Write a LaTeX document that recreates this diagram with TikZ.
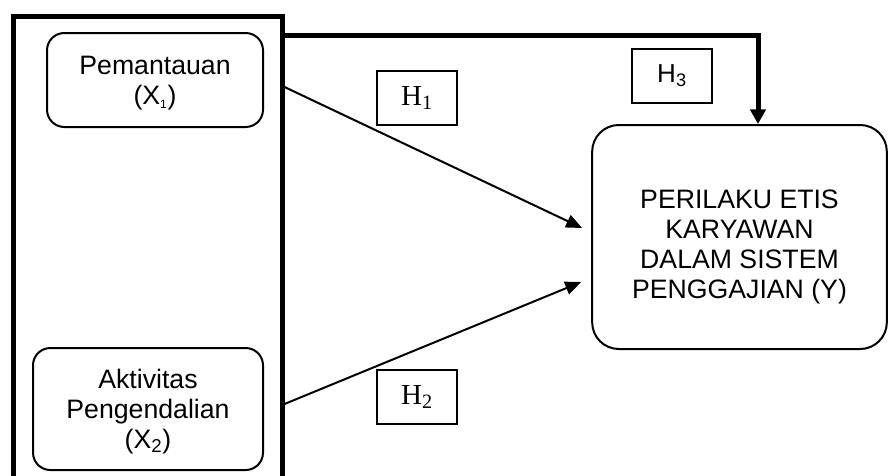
\documentclass[tikz,border=0pt]{standalone}
\usepackage{fontspec}
\setmainfont{Liberation Sans}
\newfontfamily\timesfont{Liberation Serif}
\usetikzlibrary{arrows.meta,calc,fit}

\begin{document}
\begin{tikzpicture}[x=0.75pt, y=-0.75pt,
    varbox/.style={draw, line width=1.5pt, rounded corners=13pt, align=center,
        font=\fontsize{20}{22.5}\selectfont, inner sep=0pt},
    hypbox/.style={draw, line width=1.5pt, minimum width=60pt, minimum height=40.5pt,
        inner sep=0pt},
    link/.style={line width=1.5pt, -{Triangle[length=12pt,width=10pt]}},
    boldlink/.style={line width=3.75pt, -{Triangle[length=11pt,width=11.5pt]}}]

    \useasboundingbox (0,0) rectangle (888,475);

    % Outer frame round the two independent variables
    \coordinate (fa) at (13,16);
    \coordinate (fb) at (282,481);
    \node[draw, line width=3.75pt, inner sep=0pt, fit=(fa)(fb)] (grp) {};

    % Variables
    \node[varbox, minimum width=162pt, minimum height=70.5pt] (x1) at (155,80)
        {\rule{0pt}{18pt}Pemantauan\\(X\textsubscript{\fontsize{9}{9}\selectfont 1})};
    \node[varbox, minimum width=172.5pt, minimum height=91.5pt] (x2) at (148,409)
        {\rule{0pt}{18pt}Aktivitas\\Pengendalian\\(X\textsubscript{2})};
    \node[varbox, rounded corners=20pt, minimum width=221pt, minimum height=168pt] (y) at (739.5,237)
        {\rule{0pt}{29pt}PERILAKU ETIS\\KARYAWAN\\DALAM SISTEM\\PENGGAJIAN (Y)};

    % Hypotheses
    \node[hypbox, font=\timesfont\fontsize{21.75}{24}\selectfont] (h1) at (417,98) {H\textsubscript{1}};
    \node[hypbox, font=\timesfont\fontsize{21.75}{24}\selectfont] (h2) at (417,397) {H\textsubscript{2}};
    \node[hypbox, font=\fontsize{19.5}{21}\selectfont] (h3) at (672,76) {H\textsubscript{3}};

    % Paths
    \draw[link] ($(x1.east -| grp.east)+(0,7)$) -- ($(y.west)+(-9,-9)$);
    \draw[link] ($(x2.east -| grp.east)+(0,-5)$) -- ($(y.west)+(-10,45)$);
    \draw[boldlink] ($(grp.north east)+(0,22)$) -| ($(y.north)+(18.5,0)$);
\end{tikzpicture}
\end{document}
